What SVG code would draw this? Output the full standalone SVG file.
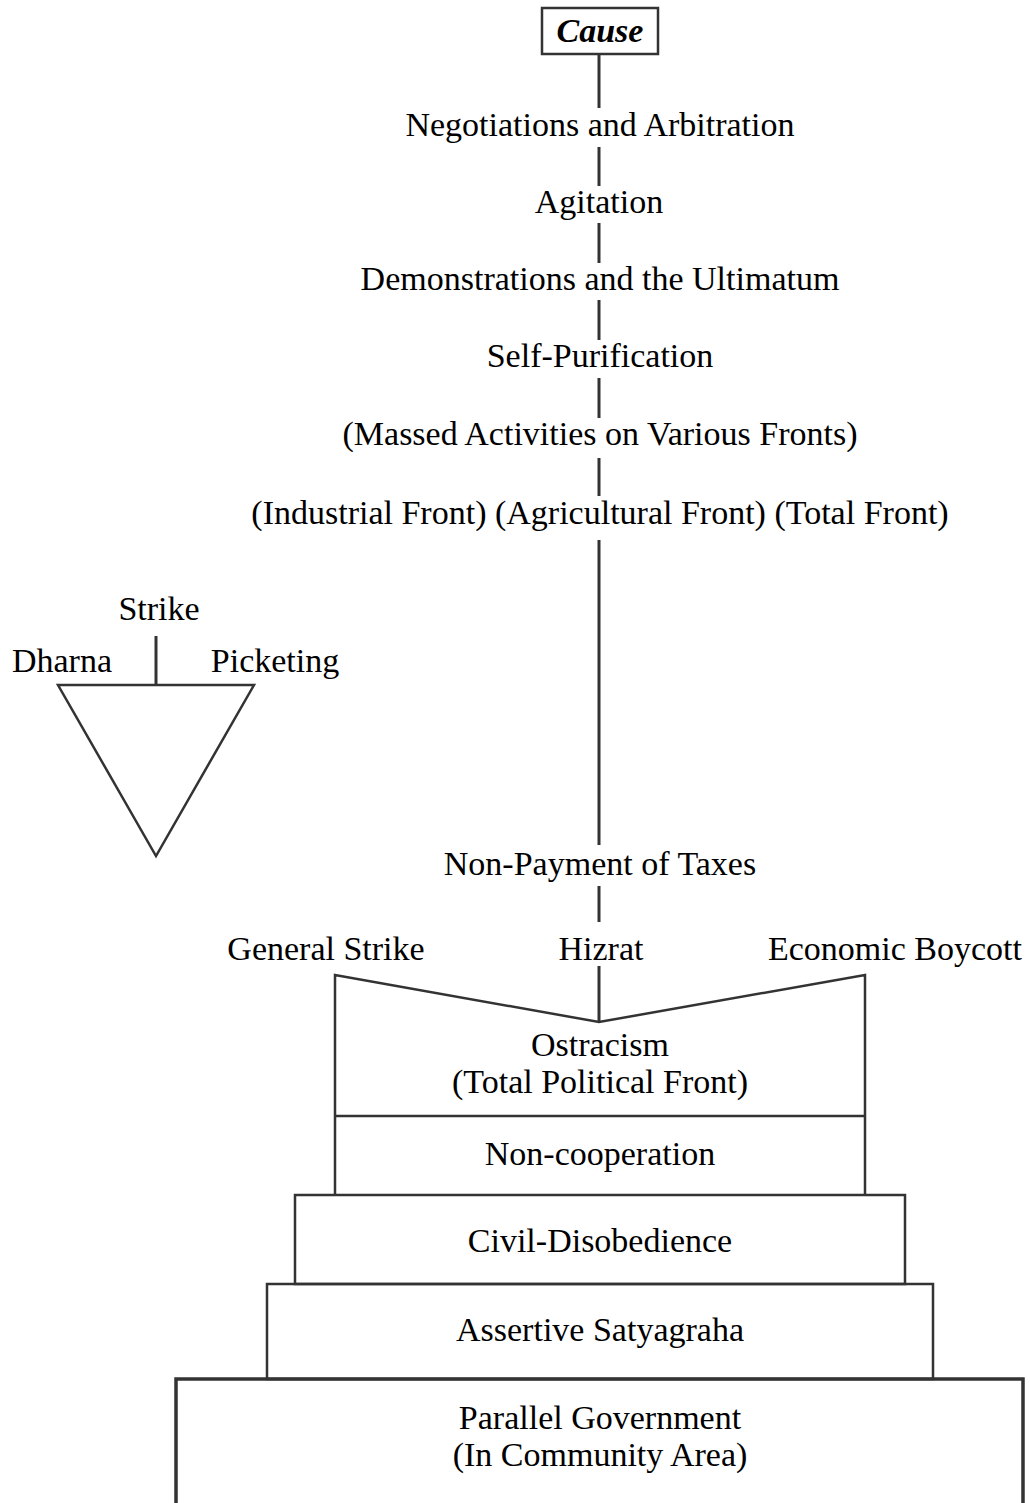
<svg xmlns="http://www.w3.org/2000/svg" width="1030" height="1503" viewBox="0 0 1030 1503">
<style>
text{font-family:"Liberation Serif","Times New Roman",serif;font-size:34px;fill:#000;text-anchor:middle}
.b{font-weight:bold;font-style:italic}
.ln{stroke:#333;stroke-width:3;fill:none}
.bx{stroke:#333;stroke-width:2.5;fill:none}
.th{stroke:#333;stroke-width:3.5;fill:none}
</style>
<rect width="1030" height="1503" fill="#fff"/>
<g id="connectors">
<line class="ln" x1="599" y1="55" x2="599" y2="108"/>
<line class="ln" x1="599" y1="147" x2="599" y2="186"/>
<line class="ln" x1="599" y1="223" x2="599" y2="263"/>
<line class="ln" x1="599" y1="300" x2="599" y2="340"/>
<line class="ln" x1="599" y1="378" x2="599" y2="418"/>
<line class="ln" x1="599" y1="458" x2="599" y2="496"/>
<line class="ln" x1="599" y1="540" x2="599" y2="845"/>
<line class="ln" x1="599" y1="886" x2="599" y2="922"/>
<line class="ln" x1="599" y1="966" x2="599" y2="1022"/>
<line class="ln" x1="156" y1="636" x2="156" y2="685"/>
</g>
<g id="cause">
<rect class="bx" x="542" y="8" width="116" height="46"/>
<text class="b" x="600" y="42">Cause</text>
</g>
<g id="negotiations"><text x="600" y="136">Negotiations and Arbitration</text></g>
<g id="agitation"><text x="599" y="213">Agitation</text></g>
<g id="demonstrations"><text x="600" y="290">Demonstrations and the Ultimatum</text></g>
<g id="self-purification"><text x="600" y="367">Self-Purification</text></g>
<g id="massed"><text x="600" y="445">(Massed Activities on Various Fronts)</text></g>
<g id="fronts"><text x="600" y="524">(Industrial Front) (Agricultural Front) (Total Front)</text></g>
<g id="triangle">
<polygon class="bx" points="58,685 254,685 156,856"/>
<text x="159" y="620">Strike</text>
<text x="62" y="672">Dharna</text>
<text x="275" y="672">Picketing</text>
</g>
<g id="non-payment"><text x="600" y="875">Non-Payment of Taxes</text></g>
<g id="general-strike"><text x="326" y="960">General Strike</text></g>
<g id="hizrat"><text x="601" y="960">Hizrat</text></g>
<g id="economic-boycott"><text x="895" y="960">Economic Boycott</text></g>
<g id="ostracism">
<path class="bx" d="M335,1195 V975 L599,1022 L865,975 V1195"/>
<line class="bx" x1="335" y1="1116" x2="865" y2="1116"/>
<text x="600" y="1056">Ostracism</text>
<text x="600" y="1093">(Total Political Front)</text>
</g>
<g id="non-cooperation">
<text x="600" y="1165">Non-cooperation</text>
</g>
<g id="civil-disobedience">
<rect class="bx" x="295" y="1195" width="610" height="89"/>
<text x="600" y="1252">Civil-Disobedience</text>
</g>
<g id="assertive-satyagraha">
<rect class="bx" x="267" y="1284" width="666" height="95"/>
<text x="600" y="1341">Assertive Satyagraha</text>
</g>
<g id="parallel-government">
<path class="th" d="M176,1510 V1379 H1023 V1510"/>
<text x="600" y="1429">Parallel Government</text>
<text x="600" y="1466">(In Community Area)</text>
</g>
</svg>
